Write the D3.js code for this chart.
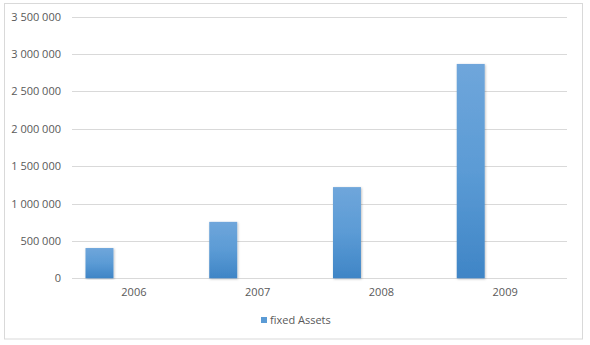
<!DOCTYPE html>
<html>
<head>
<meta charset="utf-8">
<script src="https://cdn.jsdelivr.net/npm/d3@7"></script>
<style>
  html, body { margin: 0; padding: 0; background: #fff; }
  svg text { font-family: "Open Sans", "Noto Sans", sans-serif; fill: #595959; }
</style>
</head>
<body>
<div id="chart"></div>
<script>
// Data
const years = ["2006", "2007", "2008", "2009"];
const fixedAssets = [405000, 755000, 1220000, 2868000];
const seriesName = "fixed Assets";
const yTicks = [0, 500000, 1000000, 1500000, 2000000, 2500000, 3000000, 3500000];

const width = 590, height = 345;
const plot = { left: 72, right: 567, top: 16.7, bottom: 278.3 };

const svg = d3.select("#chart")
    .append("svg")
    .attr("width", width)
    .attr("height", height);

// gradient + soft shadow for the bars
const defs = svg.append("defs");
const grad = defs.append("linearGradient")
    .attr("id", "barGrad")
    .attr("x1", 0).attr("y1", 0).attr("x2", 0).attr("y2", 1);
grad.append("stop").attr("offset", "0%").attr("stop-color", "#6fa6db");
grad.append("stop").attr("offset", "50%").attr("stop-color", "#5b9bd5");
grad.append("stop").attr("offset", "100%").attr("stop-color", "#3f85c6");

const shadow = defs.append("filter")
    .attr("id", "shadow")
    .attr("x", "-20%").attr("y", "-5%")
    .attr("width", "140%").attr("height", "110%");
shadow.append("feDropShadow")
    .attr("dx", 0.8).attr("dy", 0.8)
    .attr("stdDeviation", 1.2)
    .attr("flood-color", "#000")
    .attr("flood-opacity", 0.25);

// chart frame
svg.append("rect")
    .attr("x", 4.5).attr("y", 3.5)
    .attr("width", 578).attr("height", 335.5)
    .attr("fill", "#fff")
    .attr("stroke", "#d9d9d9")
    .attr("stroke-width", 1);

// Scales
const x = d3.scaleBand()
    .domain(years)
    .range([plot.left, plot.right])
    .paddingInner(0)
    .paddingOuter(0);

const y = d3.scaleLinear()
    .domain([0, 3500000])
    .range([plot.bottom, plot.top]);

const fmt = d3.formatLocale({ decimal: ",", thousands: " ", grouping: [3], currency: ["", ""] }).format(",d");

// Gridlines
const yAxis = d3.axisLeft(y)
    .tickValues(yTicks)
    .tickSize(-(plot.right - plot.left))
    .tickPadding(11)
    .tickFormat(fmt);

const gy = svg.append("g")
    .attr("transform", `translate(${plot.left},0)`)
    .call(yAxis);
gy.select(".domain").remove();
gy.selectAll(".tick line")
    .attr("stroke", "#d9d9d9")
    .attr("stroke-width", 1)
    .attr("shape-rendering", "crispEdges");
gy.selectAll(".tick text")
    .attr("font-size", "11px")
    .attr("font-family", null)
    .attr("fill", null);

// Bars
const barOffset = 0.109, barWidth = 0.226;
svg.append("g")
    .selectAll("rect")
    .data(fixedAssets)
    .join("rect")
    .attr("x", (d, i) => x(years[i]) + x.bandwidth() * barOffset)
    .attr("y", d => y(d))
    .attr("width", x.bandwidth() * barWidth)
    .attr("height", d => y(0) - y(d))
    .attr("fill", "url(#barGrad)")
    .attr("filter", "url(#shadow)");

// X axis labels
const xAxis = d3.axisBottom(x).tickSize(0).tickPadding(10);
const gx = svg.append("g")
    .attr("transform", `translate(0,${plot.bottom})`)
    .call(xAxis);
gx.select(".domain").remove();
gx.selectAll(".tick text")
    .attr("font-size", "11px")
    .attr("font-family", null)
    .attr("fill", null);

// Legend
const legend = svg.append("g")
    .attr("transform", "translate(261,317)");
legend.append("rect")
    .attr("width", 6).attr("height", 6)
    .attr("fill", "#5b9bd5");
legend.append("text")
    .attr("x", 9)
    .attr("y", 3)
    .attr("dy", "0.35em")
    .attr("font-size", "11px")
    .text(seriesName);
</script>
</body>
</html>
